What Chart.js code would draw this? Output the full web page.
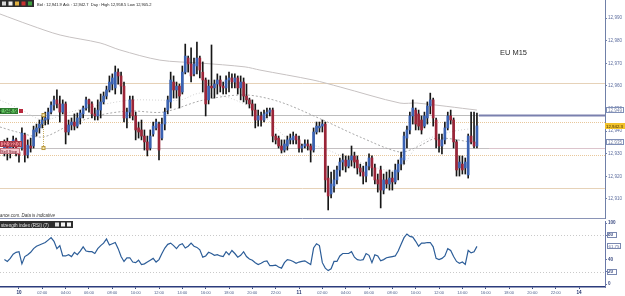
<!DOCTYPE html>
<html><head><meta charset="utf-8">
<script src="https://cdn.jsdelivr.net/npm/chart.js@4.4.1/dist/chart.umd.min.js"></script>
<style>
html,body{margin:0;padding:0;background:#fff;}
#wrap{position:relative;width:625px;height:296px;overflow:hidden;background:#fff;}
#main{position:absolute;left:0;top:0;}
#rsi{position:absolute;left:0;top:219px;}
</style></head><body>
<div id="wrap"><canvas id="main" width="625" height="219"></canvas><canvas id="rsi" width="625" height="77"></canvas></div>
<script>
// ---- DATA (EU M15, 15-minute candles from day 9 22:45 to day 11 15:15) ----
const openP = [12930.7,12933.8,12931.6,12933.4,12936.1,12930.7,12932.5,12938.3,12929.4,12933.4,
12933.4,12939.6,12941.4,12943.1,12944.9,12945.3,12948.4,12951.5,12953.8,12952.0,
12948.4,12952.0,12939.6,12942.7,12944.0,12942.2,12945.8,12947.6,12950.2,12953.8,
12952.0,12947.6,12946.7,12949.3,12952.9,12955.5,12958.2,12960.8,12959.1,12966.1,
12964.4,12959.9,12945.8,12948.4,12953.8,12946.7,12941.4,12940.5,12937.8,12935.2,
12932.5,12938.7,12941.4,12943.1,12936.9,12943.1,12949.3,12952.9,12961.7,12958.2,
12959.9,12957.3,12966.1,12972.3,12969.7,12965.3,12968.8,12972.3,12966.1,12962.6,
12953.8,12959.9,12959.1,12960.8,12962.6,12959.9,12959.1,12962.6,12963.5,12961.7,
12963.5,12959.1,12961.7,12955.5,12953.8,12952.0,12949.3,12944.9,12946.7,12944.9,
12947.6,12948.4,12949.3,12937.8,12936.9,12933.4,12931.6,12933.4,12936.1,12936.1,
12937.8,12936.1,12932.5,12933.4,12934.3,12933.4,12931.6,12939.6,12941.4,12942.2,
12943.1,12919.2,12912.2,12915.7,12918.4,12922.8,12926.3,12927.2,12924.5,12927.2,
12929.0,12927.2,12923.7,12921.9,12920.1,12924.5,12928.1,12923.7,12918.4,12922.8,
12913.9,12918.4,12916.6,12919.2,12917.5,12921.9,12925.4,12927.2,12936.9,12940.5,
12946.7,12949.3,12947.6,12944.9,12942.2,12945.8,12951.1,12953.8,12944.9,12936.1,
12933.4,12936.1,12941.4,12946.7,12944.9,12935.2,12923.7,12925.4,12923.7,12920.6,
12937.8,12935.2,12933.4];
const highP = [12936.1,12936.9,12935.2,12937.8,12936.9,12932.5,12941.4,12939.1,12936.1,12936.9,
12942.2,12943.1,12944.9,12946.7,12948.4,12950.2,12952.9,12955.5,12958.2,12955.5,
12953.8,12952.9,12944.9,12945.8,12947.6,12948.0,12949.3,12951.1,12955.1,12954.2,
12952.9,12950.2,12953.8,12956.4,12957.3,12959.9,12964.4,12965.3,12968.8,12967.5,
12966.1,12961.7,12950.2,12955.5,12955.5,12948.4,12944.0,12944.9,12940.5,12937.8,
12940.5,12944.0,12945.3,12944.0,12945.8,12950.2,12955.5,12966.1,12964.4,12961.7,
12960.8,12968.8,12978.5,12973.2,12976.8,12972.3,12979.4,12973.2,12970.6,12963.5,
12962.6,12978.1,12962.6,12965.3,12964.4,12961.7,12964.4,12966.1,12965.3,12965.3,
12964.4,12964.4,12963.5,12960.8,12954.6,12953.8,12952.0,12949.3,12948.4,12949.3,
12950.2,12950.2,12950.2,12938.7,12937.8,12936.1,12936.1,12937.8,12938.7,12939.6,
12938.7,12937.8,12934.3,12936.1,12936.1,12934.3,12941.4,12944.0,12944.0,12944.9,
12944.0,12924.5,12921.9,12922.8,12924.5,12928.1,12929.9,12929.0,12929.0,12933.4,
12930.7,12929.0,12925.4,12924.5,12926.3,12929.9,12929.0,12925.4,12921.0,12924.5,
12921.0,12921.9,12922.8,12921.9,12925.4,12927.2,12930.7,12939.6,12942.2,12948.4,
12953.8,12950.2,12949.3,12946.7,12948.4,12952.9,12956.8,12954.6,12945.8,12938.7,
12938.7,12944.0,12948.4,12949.3,12945.8,12936.1,12929.0,12929.0,12928.1,12938.7,
12948.4,12948.4,12948.0];
const lowP = [12929.0,12927.2,12928.1,12930.7,12929.0,12926.3,12931.6,12926.3,12928.1,12930.7,
12932.5,12937.8,12939.1,12941.4,12942.7,12943.1,12947.6,12949.3,12950.2,12944.0,
12947.6,12934.3,12938.3,12940.5,12940.5,12941.4,12943.1,12945.8,12949.3,12948.4,
12945.8,12944.9,12944.9,12945.8,12952.0,12954.2,12957.3,12958.2,12956.4,12960.8,
12956.4,12944.0,12941.4,12945.8,12944.9,12936.1,12936.9,12936.1,12931.6,12929.0,
12931.6,12937.8,12940.5,12927.2,12936.1,12940.5,12947.6,12950.2,12954.6,12954.6,
12950.2,12956.4,12965.3,12966.1,12961.7,12964.4,12965.3,12963.5,12957.3,12946.7,
12952.0,12954.6,12954.6,12956.4,12957.3,12956.4,12956.4,12957.3,12959.1,12959.1,
12956.4,12953.8,12952.9,12952.0,12950.2,12946.7,12941.4,12942.2,12942.2,12944.0,
12945.8,12946.7,12935.2,12934.3,12932.5,12930.3,12930.7,12931.6,12934.3,12934.3,
12934.3,12930.7,12930.7,12932.5,12931.6,12926.3,12930.7,12938.7,12939.6,12939.6,
12913.0,12905.1,12910.4,12913.0,12916.6,12920.1,12922.8,12921.9,12923.7,12924.5,
12923.7,12921.0,12920.1,12916.6,12917.5,12922.8,12920.1,12916.6,12913.0,12906.0,
12912.2,12914.8,12913.9,12913.9,12916.6,12918.4,12922.8,12925.4,12932.5,12938.7,
12943.1,12940.5,12940.5,12938.7,12941.4,12943.1,12947.6,12942.2,12932.5,12930.7,
12929.9,12934.3,12940.5,12943.1,12932.5,12920.1,12920.1,12921.0,12921.0,12919.2,
12934.3,12932.5,12932.5];
const closeP = [12933.8,12931.6,12933.4,12936.1,12930.7,12929.4,12939.1,12929.4,12933.8,12932.5,
12940.5,12941.4,12943.1,12944.9,12945.8,12948.4,12951.5,12953.8,12952.0,12948.4,
12952.0,12939.6,12942.7,12944.0,12942.2,12945.8,12948.0,12950.2,12953.8,12952.0,
12947.6,12946.7,12949.3,12952.9,12955.5,12958.2,12961.7,12963.5,12966.1,12964.4,
12959.9,12945.8,12948.4,12953.8,12946.7,12940.5,12939.6,12937.8,12935.2,12931.6,
12937.8,12942.2,12944.0,12931.6,12943.1,12948.4,12953.8,12962.6,12958.2,12959.9,
12955.5,12966.1,12973.2,12969.7,12964.4,12969.7,12972.3,12967.0,12962.6,12952.0,
12959.9,12959.1,12960.8,12962.6,12959.9,12959.1,12962.6,12963.5,12961.7,12963.5,
12959.1,12961.7,12955.5,12953.8,12952.0,12949.3,12944.9,12946.7,12944.9,12947.6,
12948.4,12949.3,12937.8,12936.1,12933.4,12931.6,12934.3,12936.1,12936.9,12937.8,
12936.1,12932.5,12933.4,12934.3,12933.4,12931.6,12939.6,12942.2,12942.2,12943.1,
12918.4,12911.3,12916.6,12918.4,12922.8,12926.3,12927.2,12924.5,12927.2,12929.0,
12926.3,12923.7,12921.9,12920.1,12924.5,12928.1,12923.7,12918.4,12916.6,12913.9,
12918.4,12916.6,12919.2,12917.5,12922.8,12925.4,12928.1,12937.8,12940.5,12946.7,
12950.2,12943.1,12942.2,12940.5,12946.7,12951.1,12953.8,12945.8,12936.1,12933.4,
12936.1,12941.4,12946.7,12944.9,12935.2,12922.8,12926.3,12922.8,12926.3,12937.8,
12935.2,12933.4,12942.3];
// RSI (7), one value per candle
const rsiValues = [40,37,42,49,52,53,33,45,48,52,
58,62,64,66,68,72,76,70,58,63,
46,46,48,45,52,48,54,61,54,53,
53,50,58,63,67,74,64,66,68,58,
45,37,43,43,36,35,39,32,33,36,
39,42,36,40,50,59,65,67,63,58,
64,66,59,62,67,62,60,56,44,46,
52,50,47,48,46,45,53,48,55,50,
44,47,53,45,41,39,35,32,34,37,
38,30,30,31,28,26,35,40,39,37,
34,36,37,38,35,32,59,66,63,35,
26,22,25,37,37,46,50,50,50,53,
44,40,39,40,50,47,35,48,46,38,
40,43,44,45,46,54,65,76,82,78,
77,70,62,67,67,68,68,61,42,40,
42,46,58,55,45,37,34,36,32,55,
51,53,61.75];
// Moving averages (bar position, price)
const maSlowX = [-1.5,8.8,19.1,32.8,39.6,53.3,67.1,82.5,87.6,105.8,115.1,135.6,141.4,162];
const maSlowY = [12991.8,12986.9,12982.5,12979.0,12975.9,12971.4,12970.1,12968.4,12967.0,12962.6,12959.5,12952.4,12952.4,12949.3];
const maMidX = [-1.5,4.3,13.2,22.5,32.8,43.1,54.4,68.1,82.5,94.5,109.2,121.9,135.6,141.4,148.3,162];
const maMidY = [12941.8,12939.6,12937.4,12942.7,12947.1,12948.9,12948.4,12953.7,12956.0,12952.9,12944.9,12937.4,12930.7,12932.9,12936.9,12934.7];
const maFastX = [-1.5,5.3,13.2,22.5,32.8,43.1,53.3,60.2,67.1,77.3,87.6,97.9,108.2,119.5,134.6,142.5,152.8,162];
const maFastY = [12953.7,12949.8,12944.9,12948.4,12951.5,12953.7,12953.7,12953.7,12956.8,12954.6,12948.0,12936.0,12932.9,12927.2,12922.8,12934.7,12939.6,12941.4];
// Horizontal levels
const levelPrices = [12961.3, 12947.1, 12944.0, 12932.5, 12929.4, 12914.8];
const priceTicks = [12910,12920,12930,12940,12950,12960,12970,12980,12990];
const rsiTicks = [0,20,40,80,100];
const timeLabels = ['10','02:00','04:00','06:00','08:00','10:00','12:00','14:00','16:00','18:00','20:00','22:00',
 '11','02:00','04:00','06:00','08:00','10:00','12:00','14:00','16:00','18:00','20:00','22:00','14'];
const bidAskText = 'Bid : 12,941.9 Ask : 12,942.7  Day : High 12,958.5 Low 12,905.2';
const lastPrice = 12942.3, rsiLast = 61.75;
const entryPrice = 12948.9, stopPrice = 12932.0;

// ---- rendering ----
const FAM = '"Liberation Sans", Arial, sans-serif';
const levelStyles = [
  {c:'#e6d2b8', d:[]}, {c:'#bdbdbd', d:[]}, {c:'#e8c79a', d:[1,1]},
  {c:'#c4c0c2', d:[]}, {c:'#e8c79a', d:[1,1]}, {c:'#e6d2b8', d:[]}
];
function fmt(v){ return String(v).replace(/\B(?=(\d{3})+(?!\d))/g, ','); }
function fitText(ctx, txt, x, y, w, o){
  o = o || {};
  const pre = (o.style||'') + ' ' + (o.weight||'') + ' ';
  ctx.font = pre + '20px ' + FAM;
  const m = ctx.measureText(txt).width;
  const s = 20 * w / m;
  ctx.font = pre + s.toFixed(2) + 'px ' + FAM;
  ctx.fillStyle = o.color || '#222';
  ctx.textAlign = 'left'; ctx.textBaseline = 'alphabetic';
  ctx.fillText(txt, x, y);
}
const idx = openP.map((_, i) => i);
const up = idx.map(i => closeP[i] >= openP[i]);

const mainDeco = {
  id: 'mainDeco',
  beforeDatasetsDraw(chart){
    const {ctx, chartArea:a, scales:{y}} = chart;
    ctx.save();
    levelPrices.forEach((p,k)=>{
      const st = levelStyles[k];
      const py = Math.round(y.getPixelForValue(p)) + 0.5;
      ctx.strokeStyle = st.c; ctx.lineWidth = 1; ctx.setLineDash(st.d);
      ctx.beginPath(); ctx.moveTo(a.left, py); ctx.lineTo(a.right, py); ctx.stroke();
    });
    ctx.restore();
  },
  afterDatasetsDraw(chart){
    const {ctx, chartArea:a, scales:{x,y}} = chart;
    ctx.save();
    const xl = x.getPixelForValue(idx[idx.length-1]);
    // current price line
    let py = Math.round(y.getPixelForValue(levelPrices[1]));
    ctx.fillStyle = '#7a80ae'; ctx.fillRect(xl+2, py-0.5, a.right - xl - 2, 2);
    py = Math.round(y.getPixelForValue(levelPrices[3])) + 0.5;
    ctx.strokeStyle = '#dcc4cc'; ctx.lineWidth = 1;
    ctx.beginPath(); ctx.moveTo(xl+12, py); ctx.lineTo(a.right, py); ctx.stroke();
    // trade marker
    const mx = Math.round(x.getPixelForValue(13.2)) + 0.5;
    const y1 = y.getPixelForValue(levelPrices[1]), y2 = y.getPixelForValue(levelPrices[3]);
    ctx.strokeStyle = '#c9ad5c'; ctx.setLineDash([1,1]);
    ctx.beginPath(); ctx.moveTo(mx, y1); ctx.lineTo(mx, y2); ctx.stroke();
    ctx.setLineDash([]);
    [y1,y2].forEach(v=>{ ctx.fillStyle='#f2e3a6'; ctx.fillRect(mx-1.5, v-1.5, 3, 3);
      ctx.strokeStyle='#b8963c'; ctx.strokeRect(mx-1.5, v-1.5, 3, 3); });
    // order labels on the left
    const gy = Math.round(y.getPixelForValue(entryPrice));
    ctx.fillStyle = '#63c662'; ctx.fillRect(0, gy-3, 18, 6);
    ctx.strokeStyle = '#2f7d30'; ctx.strokeRect(0.5, gy-2.5, 17, 5);
    fitText(ctx, fmt('12948') + '.9', -3, gy+2, 20, {color:'#113311'});
    ctx.fillStyle = '#b8283c'; ctx.fillRect(19, gy-2, 4, 4);
    const ry = Math.round(y.getPixelForValue(stopPrice));
    ctx.fillStyle = '#e97c88'; ctx.fillRect(0, ry-8, 22, 6);
    ctx.strokeStyle = '#b03a48'; ctx.strokeRect(0.5, ry-7.5, 21, 5);
    fitText(ctx, '12,932.0', 2, ry-3.5, 18, {color:'#5a0a14'});
    ctx.fillStyle = '#f6c9cf'; ctx.fillRect(0, ry-1, 20, 6);
    ctx.strokeStyle = '#c0707c'; ctx.strokeRect(0.5, ry-0.5, 19, 5);
    fitText(ctx, 'Sell Stop', 1, ry+3.5, 16, {color:'#6a1020'});
    ctx.restore();
  },
  afterDraw(chart){
    const {ctx, chartArea:a, scales:{y}} = chart;
    ctx.save();
    // toolbar
    ctx.fillStyle = '#2c2c2c'; ctx.fillRect(0, 0, 34, 7);
    const ic = ['#d8d8d8','#f0f0f0','#e0b040','#c83030','#40a040'];
    ic.forEach((c,k)=>{ ctx.fillStyle=c; ctx.fillRect(2+k*6.5, 1.5, 4, 4); });
    fitText(ctx, bidAskText, 37, 5.5, 115, {color:'#222'});
    fitText(ctx, 'EU M15', 500, 55, 27, {color:'#2a2a2a'});
    fitText(ctx, 'ance.com. Data is indicative', 0, 217, 55, {style:'italic', color:'#333'});
    // separator
    ctx.strokeStyle = '#8a94b6'; ctx.lineWidth = 1;
    ctx.beginPath(); ctx.moveTo(0, 218.5); ctx.lineTo(a.right, 218.5); ctx.stroke();
    // right boxes
    const box = (p, txt, fill, stroke, col) => {
      const by = Math.round(y.getPixelForValue(p));
      ctx.fillStyle = fill; ctx.fillRect(a.right+1, by-3, 18, 6);
      if (stroke){ ctx.strokeStyle = stroke; ctx.strokeRect(a.right+1.5, by-2.5, 17, 5); }
      fitText(ctx, txt, a.right+3, by+2, 14, {color:col});
    };
    box(12949.3, '12,949', '#ffffff', '#8090b8', '#7a86a8');
    box(12935.0, '12,935', '#ffffff', '#8090b8', '#7a86a8');
    const yy = Math.round(y.getPixelForValue(lastPrice));
    ctx.fillStyle = '#f2c22a'; ctx.fillRect(a.right, yy-3, 20, 6);
    fitText(ctx, fmt(12942) + '.3', a.right+1, yy+2, 17, {color:'#3a2a00'});
    ctx.restore();
  }
};

new Chart(document.getElementById('main'), {
  type: 'bar',
  data: {
    datasets: [
      { type:'bar', data: idx.map(i => ({x:i, y:[openP[i], closeP[i]]})),
        backgroundColor: idx.map(i => up[i] ? '#3a62b2' : '#9b2538'),
        barThickness: 2, grouped: false, order: 1, borderSkipped: false },
      { type:'bar', data: idx.map(i => ({x:i, y:[lowP[i], highP[i]]})),
        backgroundColor: '#161616', barThickness: 1, grouped: false, order: 2 },
      { type:'line', data: maSlowX.map((v,k)=>({x:v, y:maSlowY[k]})), borderColor:'#c7c2c2',
        borderWidth: 1, pointRadius: 0, order: 3, tension: 0.3 },
      { type:'line', data: maMidX.map((v,k)=>({x:v, y:maMidY[k]})), borderColor:'#a9a9a9',
        borderWidth: 1, borderDash:[2,2], pointRadius: 0, order: 3, tension: 0.3 },
      { type:'line', data: maFastX.map((v,k)=>({x:v, y:maFastY[k]})), borderColor:'#d2d2d2',
        borderWidth: 1, borderDash:[1,2], pointRadius: 0, order: 3, tension: 0.3 }
    ]
  },
  options: {
    responsive: false, animation: false, maintainAspectRatio: false,
    layout: { padding: 0 },
    plugins: { legend:{display:false}, tooltip:{enabled:false} },
    scales: {
      x: { type:'linear', min:-1.51, max:205.9, display:false, offset:false },
      y: { position:'right', min:12901.1, max:12998, beginAtZero:false,
        afterBuildTicks(s){ s.ticks = priceTicks.map(v=>({value:v})); },
        afterFit(s){ s.width = 20; s.paddingTop = 0; s.paddingBottom = 0; },
        ticks: { callback: v => fmt(v), font:{size:4.6, family:FAM}, color:'#6070a0', padding:1 },
        grid: { drawOnChartArea:false, tickLength:2, color:'#7080a8' },
        border: { color:'#7080a8' } }
    }
  },
  plugins: [mainDeco]
});

const rsiDeco = {
  id: 'rsiDeco',
  beforeDatasetsDraw(chart){
    const {ctx, chartArea:a, scales:{y}} = chart;
    ctx.save();
    ctx.strokeStyle = '#c9c9c9'; ctx.setLineDash([1,2]); ctx.lineWidth = 1;
    [80,20].forEach(v=>{ const py = Math.round(y.getPixelForValue(v)) + 0.5;
      ctx.beginPath(); ctx.moveTo(a.left, py); ctx.lineTo(a.right, py); ctx.stroke(); });
    ctx.restore();
  },
  afterDraw(chart){
    const {ctx, chartArea:a, scales:{y}} = chart;
    ctx.save();
    ctx.fillStyle = '#2e2e2e'; ctx.fillRect(0, 2, 73, 7);
    fitText(ctx, 'strength index (RSI) (7)', 1, 7.5, 48, {color:'#e6e6e6'});
    const ic = ['#e0e0e0','#f4f4f4','#f4f4f4'];
    ic.forEach((c,k)=>{ ctx.fillStyle=c; ctx.fillRect(55+k*6, 3.5, 4, 4); });
    ctx.strokeStyle = '#7a88b0'; ctx.lineWidth = 1;
    [80,20].forEach(v=>{ const py = Math.round(y.getPixelForValue(v));
      ctx.strokeRect(a.right+2.5, py-2.5, 9, 5); });
    const py = Math.round(y.getPixelForValue(rsiLast));
    ctx.fillStyle = '#fff'; ctx.fillRect(a.right+2, py-3, 14, 6);
    ctx.strokeRect(a.right+2.5, py-2.5, 13, 5);
    fitText(ctx, String(rsiLast), a.right+3.5, py+2, 11, {color:'#5a6898'});
    ctx.restore();
  }
};

new Chart(document.getElementById('rsi'), {
  type: 'line',
  data: { datasets: [{ data: idx.map(i => ({x:i, y:rsiValues[i]})), borderColor:'#2c5d98',
    borderWidth: 1.2, pointRadius: 0, tension: 0 }] },
  options: {
    responsive: false, animation: false, maintainAspectRatio: false,
    layout: { padding: { top:2, left:0, right:0, bottom:0 } },
    plugins: { legend:{display:false}, tooltip:{enabled:false} },
    scales: {
      x: { type:'linear', min:-1.51, max:205.9, offset:false,
        afterBuildTicks(s){ s.ticks = timeLabels.map((_,k)=>({value: 5 + 8*k})); },
        afterFit(s){ s.height = 9; s.paddingLeft = 0; s.paddingRight = 0; },
        ticks: { autoSkip:false, maxRotation:0, minRotation:0, padding:1,
          callback: (v,i) => timeLabels[i],
          font: c => ({ size: timeLabels[c.index] && timeLabels[c.index].length < 3 ? 4.6 : 4.0,
                        weight: timeLabels[c.index] && timeLabels[c.index].length < 3 ? 'bold' : 'normal', family:FAM }),
          color: c => (timeLabels[c.index] && timeLabels[c.index].length < 3) ? '#1e2e6a' : '#4a5a88' },
        grid: { drawOnChartArea:false, tickLength:2, color:'#3a4a80' },
        border: { color:'#2c3c7c', width:1.5 } },
      y: { position:'right', min:-4.9, max:103.3, beginAtZero:false,
        afterBuildTicks(s){ s.ticks = rsiTicks.map(v=>({value:v})); },
        afterFit(s){ s.width = 20; s.paddingTop = 0; s.paddingBottom = 0; },
        ticks: { font:{size:4.6, family:FAM, weight:'bold'}, color:'#3a4a80', padding:1 },
        grid: { drawOnChartArea:false, tickLength:2, color:'#6a78a8' },
        border: { color:'#6a78a8' } }
    }
  },
  plugins: [rsiDeco]
});
</script>
</body></html>
